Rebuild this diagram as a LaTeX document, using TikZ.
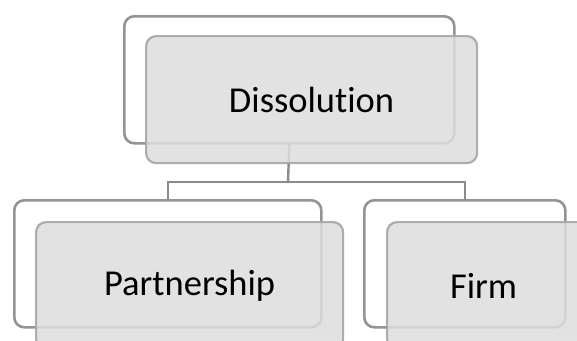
\documentclass[tikz,border=0pt]{standalone}
\usepackage{fontspec}
\setmainfont{Carlito}[Ligatures={NoCommon}]
\begin{document}
\begin{tikzpicture}[x=1pt,y=-1pt,
  backbox/.style={draw=black!42, line width=2.6pt, fill=white, rounded corners=10pt,
    minimum height=127pt, inner sep=0pt, anchor=north west},
  frontbox/.style={draw=black!35, line width=2.2pt, fill=black!13, fill opacity=0.85,
    draw opacity=0.9, text opacity=1, rounded corners=10pt,
    minimum height=127pt, inner sep=0pt, anchor=north west,
    font=\fontsize{36.5}{44}\selectfont},
  link/.style={draw=black!45, line width=2.4pt, line cap=rect}]
\useasboundingbox (0,0) rectangle (577,340);
\clip (0,0) rectangle (577,340);
\fill[white] (0,0) rectangle (577,340);

% back outlines
\node[backbox, minimum width=330pt] (topback) at (123,15) {};
\node[backbox, minimum width=307pt] (pback) at (13,199) {};
\node[backbox, minimum width=201pt] (fback) at (363,199) {};

% tree connectors
\coordinate (split) at (288,182);
\draw[link] (topback.south) -- (split);
\draw[link] (split) -| (pback.north);
\draw[link] (split) -| (fback.north);

% front cards with labels
\node[frontbox, minimum width=331pt] (top) at (145,35) {Dissolution};
\node[frontbox, minimum width=307pt] (part) at (35,221) {Partnership};
\node[frontbox, minimum width=201pt] (firm) at (386,221) {\hspace*{-8pt}Firm};
\end{tikzpicture}
\end{document}
